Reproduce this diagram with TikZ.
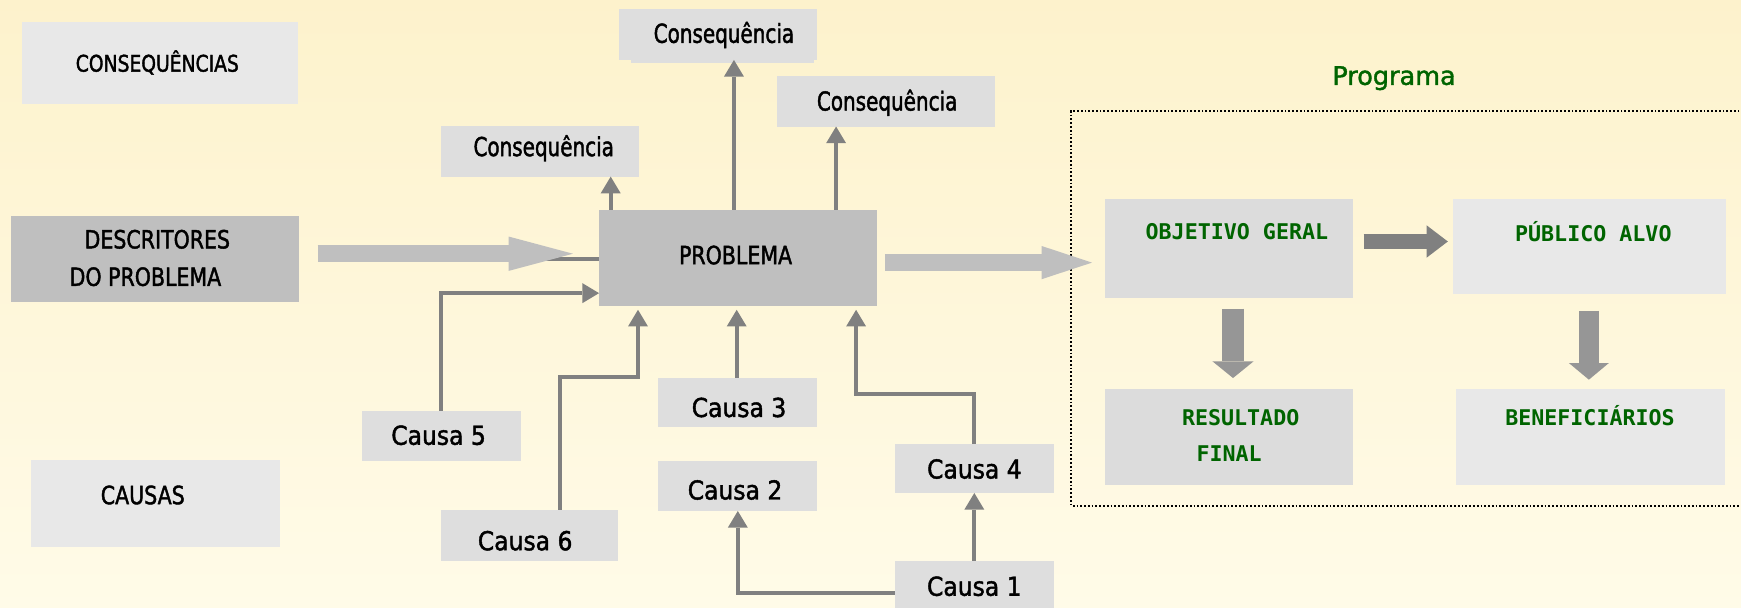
\documentclass[tikz,border=0pt]{standalone}
\usepackage{fontspec}
\usetikzlibrary{arrows.meta,calc}
\newfontfamily\blk[FakeStretch=0.91,FakeBold=1.6]{DejaVu Sans Condensed}
\newfontfamily\blkn[FakeStretch=0.85,FakeBold=1.6]{DejaVu Sans Condensed}
\newfontfamily\blkc[FakeBold=1.6]{DejaVu Sans Condensed}
\newfontfamily\grs[FakeBold=1.5]{DejaVu Sans}
\newfontfamily\grm{DejaVu Sans Mono}
\definecolor{bgtop}{RGB}{253,242,204}
\definecolor{bgbot}{RGB}{255,251,232}
\definecolor{gA}{RGB}{232,232,232}
\definecolor{gB}{RGB}{222,222,222}
\definecolor{gC}{RGB}{220,220,220}
\definecolor{gD}{RGB}{191,191,191}
\definecolor{ln}{RGB}{128,128,128}
\definecolor{bigl}{RGB}{191,191,191}
\definecolor{bigm}{RGB}{150,150,150}
\definecolor{grn}{RGB}{0,100,0}
\tikzset{
 bx/.style={rectangle, inner sep=0pt, outer sep=0pt, draw=none},
 tx/.style={inner sep=0pt, outer sep=0pt, text depth=0pt, anchor=center},
 tcapS/.style={tx, font=\blk\fontsize{20.6}{24}\selectfont, text height=15pt},
 tcap/.style={tx, font=\blk\fontsize{22.6}{26}\selectfont, text height=16.5pt},
 tcons/.style={tx, font=\blkn\fontsize{23.5}{28}\selectfont, text height=17.1pt},
 tcau/.style={tx, font=\blkc\fontsize{23.5}{28}\selectfont, text height=17.1pt},
 tgrn/.style={tx, text=grn, font=\grm\bfseries\fontsize{19.5}{23}\selectfont, text height=14.2pt},
 tprog/.style={tx, text=grn, font=\grs\fontsize{23}{27}\selectfont, text height=16.8pt},
 conn/.style={draw=ln, line width=3.4pt, -{Triangle[length=15pt,width=18pt,line width=0pt]}},
 plainln/.style={draw=ln, line width=3.4pt},
 dotline/.style={draw=black, line width=1.6pt, dash pattern=on 1.6pt off 1.8pt},
}
\begin{document}
\begin{tikzpicture}[x=1pt,y=-1pt]
\shade[top color=bgtop,bottom color=bgbot] (0,0) rectangle (1568,547);
\useasboundingbox (0,0) rectangle (1568,547);

% helper coordinates
\coordinate (x550) at (550,0);
\coordinate (x661) at (661,0);
\coordinate (x753) at (753,0);
\coordinate (x505) at (504.6,0);
\coordinate (x575) at (574.6,0);
\coordinate (x663) at (663.5,0);
\coordinate (x771) at (771,0);
\coordinate (x470) at (470,0);
\coordinate (y264) at (0,264);
\coordinate (y340) at (0,339.5);
\coordinate (y355) at (0,355);
\coordinate (y534) at (0,534);
\coordinate (y233) at (0,233.5);

% left column
\node[bx, fill=gA, minimum width=249pt, minimum height=73.6pt] (cons) at (144.1,56.6) {};
\node[tcapS] (const) at (141.7,57) {CONSEQUÊNCIAS};
\node[bx, fill=gD, minimum width=259pt, minimum height=77.2pt] (desc) at (139.5,233.1) {};
\node[tcap] (descA) at (141.7,215.5) {DESCRITORES};
\node[tcap] (descB) at (131,249.2) {DO PROBLEMA};
\node[bx, fill=gA, minimum width=224.3pt, minimum height=78.1pt] (caus) at (140,453.4) {};
\node[tcap] (caust) at (128.6,445.8) {CAUSAS};

% consequences
\fill[gB] (568,50) rectangle (733,56.5);
\node[bx, fill=gB, minimum width=178pt, minimum height=46pt] (ctop) at (646.5,31) {};
\node[tcons] (ctopt) at (652,30) {Consequência};
\node[bx, fill=gB, minimum width=196pt, minimum height=45.5pt] (cright) at (798,91.2) {};
\node[tcons] (crightt) at (799,91) {Consequência};
\node[bx, fill=gB, minimum width=178pt, minimum height=45.5pt] (cleft) at (486.3,136.3) {};
\node[tcons] (cleftt) at (489.7,132) {Consequência};

% problem
\node[bx, fill=gD, minimum width=250pt, minimum height=87pt] (prob) at (664.5,232.5) {};
\node[tcap] (probt) at (662.5,229.7) {PROBLEMA};

% causes
\node[bx, fill=gB, minimum width=143pt, minimum height=45pt] (c5) at (397.5,392.5) {};
\node[tcau] (c5t) at (395,392) {Causa 5};
\node[bx, fill=gB, minimum width=160pt, minimum height=46pt] (c6) at (477,482) {};
\node[tcau] (c6t) at (473,487) {Causa 6};
\node[bx, fill=gB, minimum width=143pt, minimum height=45pt] (c3) at (664.5,362.5) {};
\node[tcau] (c3t) at (665.6,367) {Causa 3};
\node[bx, fill=gB, minimum width=143pt, minimum height=45pt] (c2) at (664.5,437.7) {};
\node[tcau] (c2t) at (662,441.3) {Causa 2};
\node[bx, fill=gB, minimum width=143pt, minimum height=44pt] (c4) at (877.5,422) {};
\node[tcau] (c4t) at (877.6,422.4) {Causa 4};
\node[bx, fill=gB, minimum width=143pt, minimum height=45pt] (c1) at (877.5,527.5) {};
\node[tcau] (c1t) at (877.5,528) {Causa 1};

% program
\node[tprog] (prog) at (1255.5,68) {Programa};
\draw[dotline] (1570,100) -- (964.7,100) -- (964.7,455.4) -- (1570,455.4);
\node[bx, fill=gC, minimum width=223.4pt, minimum height=88.7pt] (obj) at (1107.1,223.6) {};
\node[tgrn] (objt) at (1114,208.6) {OBJETIVO GERAL};
\node[bx, fill=gA, minimum width=245.5pt, minimum height=85.2pt] (pub) at (1431.3,221.9) {};
\node[tgrn] (pubt) at (1435,210) {PÚBLICO ALVO};
\node[bx, fill=gC, minimum width=223.4pt, minimum height=86.1pt] (res) at (1107.1,393.5) {};
\node[tgrn] (resA) at (1117.4,375.9) {RESULTADO};
\node[tgrn] (resB) at (1107,408.3) {FINAL};
\node[bx, fill=gA, minimum width=242pt, minimum height=86.1pt] (ben) at (1432.4,393.5) {};
\node[tgrn] (bent) at (1432,376) {BENEFICIÁRIOS};

% thin connectors
\draw[conn] (prob.north -| x550) -- (cleft.south -| x550);
\draw[conn] (prob.north -| x661) -- (ctop.south -| x661);
\draw[conn] (prob.north -| x753) -- (cright.south -| x753);
\draw[conn] (c5.north) |- (prob.west |- y264);
\draw[conn, shorten >=3pt] (c6.north -| x505) -- (y340 -| x505) -- (y340 -| x575) -- (prob.south -| x575);
\draw[conn, shorten >=3pt] (c3.north -| x663) -- (prob.south -| x663);
\draw[conn, shorten >=3pt] (c4.north) -- (c4.north |- y355) -- (y355 -| x771) -- (prob.south -| x771);
\draw[conn] (c1.north) -- (c4.south);
\draw[conn] (c1.west |- y534) -| (c2.south);
\draw[plainln] (x470 |- y233) -- (prob.west |- y233);

% block arrows
\coordinate (bdA) at (286,228.5);
\coordinate (bdB) at (516,228.5);
\draw[draw=bigl, line width=15pt, -{Triangle[length=58pt,width=31pt,line width=0pt]}] (bdA) -- (bdB);
\coordinate (bpA) at ($(prob.east |- 0,236.5)+(7.5,0)$);
\coordinate (bpB) at (983.5,236.5);
\draw[draw=bigl, line width=15pt, -{Triangle[length=45.5pt,width=30pt,line width=0pt]}] (bpA) -- (bpB);
\coordinate (boA) at ($(obj.east |- 0,217.5)+(9.4,0)$);
\coordinate (boB) at ($(pub.west |- 0,217.5)+(-4.6,0)$);
\draw[draw=ln, line width=14pt, -{Triangle[length=19pt,width=29pt,line width=0pt]}] (boA) -- (boB);
\coordinate (brA) at ($(obj.south)+(3.4,10)$);
\coordinate (brB) at ($(res.north)+(3.4,-10)$);
\draw[draw=bigm, line width=19pt, -{Triangle[length=15pt,width=37pt,line width=0pt]}] (brA) -- (brB);
\coordinate (bbA) at ($(pub.south)+(-0.3,15.5)$);
\coordinate (bbB) at ($(ben.north)+(-1.4,-8.5)$);
\draw[draw=bigm, line width=18pt, -{Triangle[length=15pt,width=36pt,line width=0pt]}] (bbA) -- (bbB);
\end{tikzpicture}
\end{document}
